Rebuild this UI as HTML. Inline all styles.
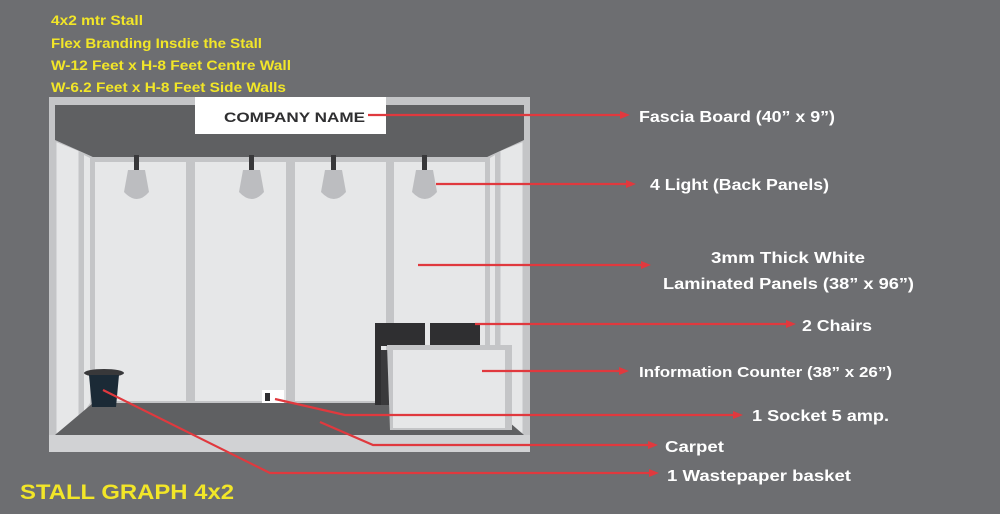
<!DOCTYPE html>
<html><head><meta charset="utf-8"><style>
html,body{margin:0;padding:0;background:#6d6e71;}
svg{display:block;}
text{font-family:"Liberation Sans",sans-serif;font-weight:bold;}
</style></head><body>
<svg width="1000" height="514" viewBox="0 0 1000 514" xmlns="http://www.w3.org/2000/svg">
<rect width="1000" height="514" fill="#6d6e71"/>
<g fill="#f2e628" font-size="14">
<text x="51" y="25" textLength="92" lengthAdjust="spacingAndGlyphs">4x2 mtr Stall</text>
<text x="51" y="48" textLength="211" lengthAdjust="spacingAndGlyphs">Flex Branding Insdie the Stall</text>
<text x="51" y="70" textLength="240" lengthAdjust="spacingAndGlyphs">W-12 Feet x H-8 Feet Centre Wall</text>
<text x="51" y="92" textLength="235" lengthAdjust="spacingAndGlyphs">W-6.2 Feet x H-8 Feet Side Walls</text>
</g>
<text x="20" y="499" fill="#f2e628" font-size="21" textLength="214" lengthAdjust="spacingAndGlyphs">STALL GRAPH 4x2</text>

<rect x="49" y="97" width="481" height="355" fill="#c4c5c7"/>
<rect x="55" y="105" width="469" height="330" fill="#5f6062"/>
<polygon points="55,140 80,150 80,428 55,435" fill="#e6e7e8"/>
<polygon points="55,140 80,150 80,428 55,435" fill="none" stroke="#c4c5c7" stroke-width="3"/>
<polygon points="80,150 93,157 93,403 80,418" fill="#c4c5c7"/>
<polygon points="84,155 90,158 90,403 84,412" fill="#e6e7e8"/>
<polygon points="524,140 499,150 499,428 524,435" fill="#e6e7e8"/>
<polygon points="524,140 499,150 499,428 524,435" fill="none" stroke="#c4c5c7" stroke-width="3"/>
<polygon points="499,150 487,157 487,403 499,418" fill="#c4c5c7"/>
<polygon points="495,155 490,158 490,403 495,412" fill="#e6e7e8"/>
<polygon points="55,105 524,105 524,140 487,157 93,157 55,140" fill="#5f6062"/>
<rect x="93" y="157" width="394" height="246" fill="#c4c5c7"/>
<rect x="95" y="162" width="91" height="239" fill="#e6e7e8"/>
<rect x="195" y="162" width="91" height="239" fill="#e6e7e8"/>
<rect x="295" y="162" width="91" height="239" fill="#e6e7e8"/>
<rect x="394" y="162" width="91" height="239" fill="#e6e7e8"/>
<polygon points="93,403 487,403 524,435 55,435" fill="#5f6062"/>
<rect x="49" y="435" width="481" height="17" fill="#d1d2d4"/>
<rect x="195" y="97" width="191" height="37" fill="#ffffff"/>
<text x="224" y="122" fill="#2f2f31" font-size="14" textLength="141" lengthAdjust="spacingAndGlyphs">COMPANY NAME</text>
<g fill="#bcbdc0">
<rect x="134" y="155" width="5" height="18" fill="#38383a"/>
<path d="M128,170 L145,170 L149,192 Q137,206 124,192 Z"/>
<rect x="249" y="155" width="5" height="18" fill="#38383a"/>
<path d="M243,170 L260,170 L264,192 Q252,206 239,192 Z"/>
<rect x="331" y="155" width="5" height="18" fill="#38383a"/>
<path d="M325,170 L342,170 L346,192 Q334,206 321,192 Z"/>
<rect x="422" y="155" width="5" height="18" fill="#38383a"/>
<path d="M416,170 L433,170 L437,192 Q425,206 412,192 Z"/>
</g>
<ellipse cx="104" cy="373" rx="20" ry="4" fill="#38383a"/>
<polygon points="89,375 119,375 116,407 92,407" fill="#1b2a36"/>
<rect x="262" y="390" width="22" height="13" fill="#ffffff"/>
<rect x="265" y="393" width="5" height="8" fill="#2f2f31"/>
<rect x="375" y="323" width="50" height="23" fill="#2f2f31"/>
<rect x="430" y="323" width="50" height="23" fill="#2f2f31"/>
<rect x="375" y="345" width="6" height="60" fill="#2f2f31"/>
<rect x="381" y="350" width="8" height="55" fill="#3a3a3c"/>
<polygon points="387,345 512,345 512,430 390,430" fill="#c4c5c7"/>
<rect x="393" y="350" width="112" height="78" fill="#e6e7e8"/>
<g stroke="#e0393e" stroke-width="2.2" fill="none">
<line x1="368" y1="115" x2="622" y2="115"/>
<line x1="436" y1="184" x2="628" y2="184"/>
<line x1="418" y1="265" x2="643" y2="265"/>
<line x1="475" y1="324" x2="788" y2="324"/>
<line x1="482" y1="371" x2="621" y2="371"/>
<polyline points="275,399 345,415 735,415"/>
<polyline points="320,422 373,445 650,445"/>
<polyline points="103,390 270,473 651,473"/>
</g>
<g fill="#e0393e">
<polygon points="620,111 630,115 620,119"/>
<polygon points="626,180 636,184 626,188"/>
<polygon points="641,261 651,265 641,269"/>
<polygon points="786,320 796,324 786,328"/>
<polygon points="619,367 629,371 619,375"/>
<polygon points="733,411 743,415 733,419"/>
<polygon points="648,441 658,445 648,449"/>
<polygon points="649,469 659,473 649,477"/>
</g>
<g fill="#ffffff" font-size="16">
<text x="639" y="122" textLength="196" lengthAdjust="spacingAndGlyphs">Fascia Board (40” x 9”)</text>
<text x="650" y="190" textLength="179" lengthAdjust="spacingAndGlyphs">4 Light (Back Panels)</text>
<text x="711" y="263" textLength="154" lengthAdjust="spacingAndGlyphs">3mm Thick White</text>
<text x="663" y="289" textLength="251" lengthAdjust="spacingAndGlyphs">Laminated Panels (38” x 96”)</text>
<text x="802" y="331" textLength="70" lengthAdjust="spacingAndGlyphs">2 Chairs</text>
<text x="639" y="377" font-size="15" textLength="253" lengthAdjust="spacingAndGlyphs">Information Counter (38” x 26”)</text>
<text x="752" y="421" textLength="137" lengthAdjust="spacingAndGlyphs">1 Socket 5 amp.</text>
<text x="665" y="452" textLength="59" lengthAdjust="spacingAndGlyphs">Carpet</text>
<text x="667" y="481" textLength="184" lengthAdjust="spacingAndGlyphs">1 Wastepaper basket</text>
</g>
</svg>
</body></html>
